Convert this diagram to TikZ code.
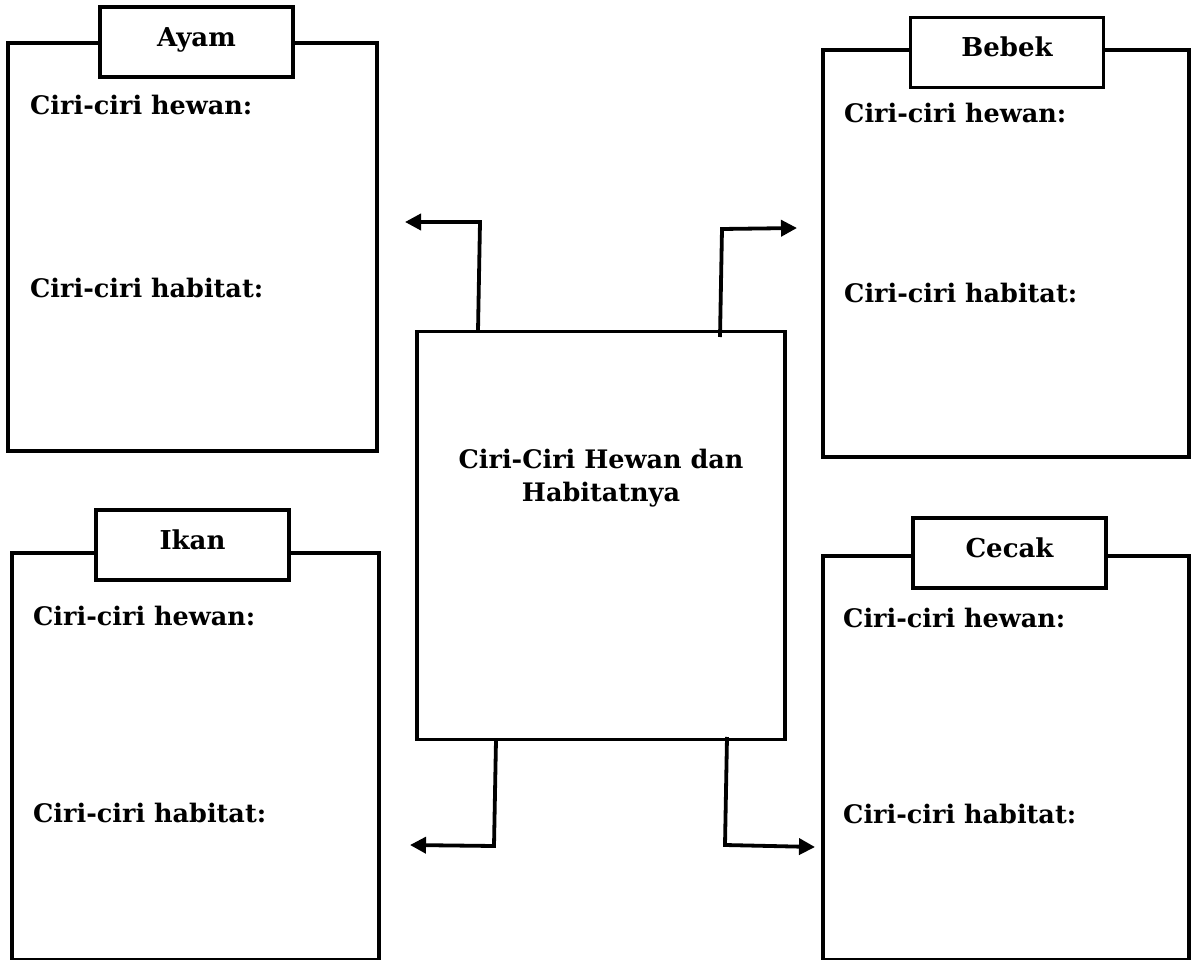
\documentclass[tikz,border=0pt]{standalone}
\usepackage{fontspec}
\setmainfont{DejaVu Serif}
\usetikzlibrary{arrows.meta}
\begin{document}
\begin{tikzpicture}[x=1pt,y=-1pt,
  panel/.style={draw, line width=3.8pt, inner sep=0pt, minimum width=#1},
  tab/.style={draw, fill=white, line width=3.8pt, inner sep=0pt, minimum width=193pt, minimum height=70pt,
     font=\fontsize{26}{33}\selectfont\bfseries, text height=18pt, text depth=9.5pt},
  lbl/.style={font=\fontsize{25.5}{33}\selectfont\bfseries, inner sep=0pt, anchor=base west},
  conn/.style={line width=3.8pt, -{Triangle[length=16pt,width=16pt]}},
]
\useasboundingbox (0,0) rectangle (1192,960);

% panels
\node[panel=369pt, minimum height=408pt] (pAyam)  at (192.5,247) {};
\node[panel=366pt, minimum height=407pt] (pBebek) at (1006,253.5) {};
\node[panel=367pt, minimum height=407pt] (pIkan)  at (195.5,756.5) {};
\node[panel=366pt, minimum height=404pt] (pCecak) at (1006,758) {};

% tabs
\node[tab] (tAyam)  at (196.5,42)  {Ayam};
\node[tab] (tBebek) at (1007,52.5) {Bebek};
\node[tab] (tIkan)  at (192.5,545) {Ikan};
\node[tab] (tCecak) at (1009.5,553) {Cecak};

% labels
\node[lbl] (hA) at (30,115) {Ciri-ciri hewan:};
\node[lbl] (bA) at (30,298) {Ciri-ciri habitat:};
\node[lbl] (hB) at (844,123) {Ciri-ciri hewan:};
\node[lbl] (bB) at (844,302) {Ciri-ciri habitat:};
\node[lbl] (hI) at (33,625) {Ciri-ciri hewan:};
\node[lbl] (bI) at (33,822) {Ciri-ciri habitat:};
\node[lbl] (hC) at (843,627) {Ciri-ciri hewan:};
\node[lbl] (bC) at (843,823) {Ciri-ciri habitat:};

% centre
\node[panel=368pt, minimum height=408pt] (centre) at (601,535.5) {};
\node[font=\fontsize{25.5}{33}\selectfont\bfseries, align=center, inner sep=0pt, anchor=base] (ctext) at (601,501) {Ciri-Ciri Hewan dan\\Habitatnya};

% connectors
\coordinate (tl0) at (478,331);
\coordinate (tl1) at (480,222);
\coordinate (tlE) at (405,222);
\coordinate (tr0) at (720,337);
\coordinate (tr1) at (722,229);
\coordinate (trE) at (797,228);
\coordinate (bl0) at (496,740);
\coordinate (bl1) at (494,846);
\coordinate (blE) at (410,845);
\coordinate (br0) at (727,737);
\coordinate (br1) at (725,845);
\coordinate (brE) at (815,847);
\draw[conn] (tl0) -- (tl1) -- (tlE);
\draw[conn] (tr0) -- (tr1) -- (trE);
\draw[conn] (bl0) -- (bl1) -- (blE);
\draw[conn] (br0) -- (br1) -- (brE);
\end{tikzpicture}
\end{document}
